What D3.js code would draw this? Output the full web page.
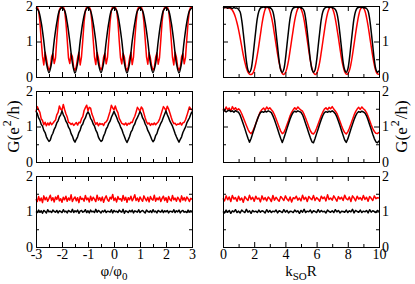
<!DOCTYPE html>
<html>
<head>
<meta charset="utf-8">
<script src="https://cdn.jsdelivr.net/npm/d3@7"></script>
<style>
body { margin: 0; background: #fff; }
svg { display: block; font-family: "Liberation Serif", "DejaVu Serif", serif; }
</style>
</head>
<body>
<script>
'use strict';

// x ranges of the two columns
var phiDomain = [-3, 3],
  kDomain = [0, 10];

var phiMajor = [-3, -2, -1, 0, 1, 2, 3],
  phiMinor = [-2.5, -1.5, -0.5, 0.5, 1.5, 2.5],
  kMajor = [0, 2, 4, 6, 8, 10],
  kMinor = [1, 3, 5, 7, 9],
  gMajor = [0, 1, 2],
  gMinor = [0.5, 1.5];

// top left, phi step 0.1
var tlBlack = [
  1.95,1.86,1.54,1.01,0.39,0.12,0.40,1.02,1.53,1.87,
  1.95,1.87,1.53,1.00,0.40,0.11,0.39,1.01,1.54,1.86,
  1.96,1.86,1.52,1.00,0.38,0.12,0.40,1.00,1.53,1.87,
  1.95,1.87,1.54,1.02,0.39,0.11,0.39,1.01,1.52,1.86,
  1.95,1.86,1.53,1.01,0.40,0.12,0.38,1.00,1.53,1.87,
  1.96,1.87,1.54,1.00,0.39,0.11,0.40,1.02,1.54,1.86,
  1.95];

// top left, phi step 0.05
var tlRed = [
  1.95,1.97,1.87,1.56,1.04,0.58,0.34,0.70,0.52,0.30,0.19,0.27,0.57,0.66,0.38,0.53,1.06,1.54,1.89,1.96,
  1.94,1.98,1.88,1.54,1.06,0.53,0.38,0.66,0.57,0.26,0.18,0.30,0.53,0.70,0.34,0.57,1.04,1.56,1.87,1.97,
  1.96,1.97,1.89,1.55,1.05,0.56,0.35,0.69,0.54,0.29,0.20,0.28,0.56,0.67,0.37,0.55,1.05,1.55,1.88,1.98,
  1.95,1.96,1.88,1.57,1.03,0.54,0.37,0.67,0.56,0.27,0.17,0.29,0.54,0.69,0.35,0.56,1.07,1.53,1.89,1.97,
  1.94,1.97,1.87,1.55,1.06,0.57,0.36,0.68,0.53,0.30,0.19,0.26,0.55,0.68,0.36,0.54,1.04,1.56,1.88,1.96,
  1.95,1.98,1.88,1.54,1.05,0.55,0.34,0.70,0.55,0.28,0.18,0.28,0.57,0.66,0.37,0.55,1.06,1.55,1.87,1.97,
  1.95];

// top right, k step 0.1
var trBlack = [
  1.96,1.95,1.97,1.94,1.96,1.95,1.93,1.96,1.94,1.94,
  1.90,1.83,1.60,1.24,0.84,0.45,0.20,0.13,0.22,0.50,
  0.90,1.30,1.65,1.85,1.94,1.96,1.97,1.95,1.98,1.96,
  1.95,1.92,1.84,1.62,1.25,0.85,0.45,0.20,0.13,0.22,
  0.50,0.90,1.30,1.65,1.86,1.94,1.96,1.97,1.95,1.97,
  1.95,1.93,1.86,1.64,1.28,0.88,0.48,0.22,0.13,0.20,
  0.46,0.86,1.26,1.62,1.84,1.93,1.96,1.97,1.95,1.97,
  1.96,1.94,1.90,1.80,1.56,1.20,0.80,0.42,0.20,0.13,
  0.22,0.50,0.90,1.30,1.65,1.85,1.94,1.96,1.97,1.95,
  1.97,1.95,1.93,1.86,1.64,1.28,0.88,0.48,0.22,0.13,
  0.18];

var trRed = [
  1.95,1.96,1.95,1.95,1.94,1.93,1.88,1.80,1.68,1.52,
  1.33,1.10,0.86,0.62,0.42,0.25,0.14,0.08,0.07,0.10,
  0.20,0.38,0.62,0.90,1.20,1.50,1.74,1.90,1.97,1.95,
  1.86,1.70,1.48,1.20,0.92,0.64,0.40,0.22,0.10,0.07,
  0.12,0.25,0.46,0.74,1.04,1.33,1.60,1.80,1.93,1.97,
  1.92,1.80,1.60,1.33,1.04,0.74,0.46,0.25,0.12,0.07,
  0.10,0.22,0.42,0.70,1.00,1.30,1.58,1.79,1.92,1.97,
  1.94,1.83,1.64,1.38,1.10,0.80,0.52,0.30,0.15,0.08,
  0.09,0.18,0.36,0.62,0.92,1.22,1.50,1.74,1.90,1.97,
  1.95,1.86,1.68,1.44,1.15,0.86,0.58,0.34,0.17,0.09,
  0.08];

// middle left, phi step 0.05
var mlBlack = [
  1.43,1.36,1.24,1.18,1.06,1.01,0.89,0.83,0.71,0.64,0.58,0.62,0.74,0.81,0.92,0.99,1.10,1.16,1.27,1.33,
  1.44,1.33,1.26,1.15,1.09,0.98,0.92,0.80,0.73,0.62,0.56,0.64,0.71,0.83,0.90,1.02,1.07,1.18,1.24,1.35,
  1.41,1.35,1.23,1.17,1.07,1.01,0.90,0.83,0.70,0.63,0.58,0.61,0.73,0.81,0.93,0.99,1.09,1.15,1.26,1.34,
  1.43,1.34,1.26,1.16,1.09,0.99,0.92,0.81,0.72,0.62,0.55,0.63,0.72,0.84,0.90,1.01,1.07,1.18,1.25,1.33,
  1.42,1.36,1.24,1.18,1.07,1.00,0.89,0.82,0.73,0.64,0.57,0.62,0.74,0.80,0.92,1.00,1.09,1.16,1.26,1.35,
  1.44,1.33,1.25,1.15,1.08,1.01,0.91,0.80,0.71,0.63,0.56,0.64,0.71,0.83,0.91,0.98,1.10,1.17,1.24,1.34,
  1.42];

var mlRed = [
  1.42,1.56,1.47,1.40,1.22,1.17,1.05,1.12,1.02,1.10,1.04,1.12,1.05,1.09,1.14,1.18,1.33,1.40,1.58,1.49,
  1.46,1.62,1.48,1.36,1.27,1.12,1.10,1.06,1.09,1.03,1.07,1.11,1.04,1.12,1.10,1.22,1.28,1.45,1.53,1.60,
  1.44,1.54,1.52,1.35,1.26,1.14,1.06,1.11,1.02,1.09,1.06,1.08,1.03,1.11,1.13,1.19,1.31,1.43,1.60,1.52,
  1.47,1.58,1.46,1.39,1.23,1.16,1.09,1.07,1.05,1.10,1.03,1.09,1.07,1.12,1.11,1.21,1.29,1.41,1.54,1.49,
  1.43,1.55,1.50,1.37,1.24,1.13,1.07,1.10,1.03,1.08,1.05,1.10,1.05,1.09,1.13,1.20,1.32,1.44,1.56,1.51,
  1.45,1.57,1.49,1.38,1.26,1.15,1.08,1.09,1.04,1.07,1.06,1.11,1.04,1.10,1.12,1.19,1.30,1.42,1.55,1.50,
  1.46];

// middle right, k step 0.1
var mrBlack = [
  1.43,1.45,1.41,1.44,1.46,1.42,1.44,1.40,1.45,1.42,
  1.40,1.32,1.20,1.07,0.94,0.80,0.67,0.56,0.66,0.80,
  0.93,1.07,1.20,1.31,1.39,1.42,1.40,1.43,1.41,1.44,
  1.42,1.39,1.30,1.19,1.06,0.93,0.79,0.66,0.55,0.67,
  0.80,0.94,1.08,1.21,1.32,1.40,1.43,1.41,1.44,1.42,
  1.40,1.33,1.21,1.08,0.95,0.81,0.68,0.57,0.54,0.66,
  0.80,0.93,1.07,1.20,1.31,1.39,1.42,1.40,1.43,1.41,
  1.44,1.41,1.36,1.27,1.15,1.02,0.88,0.75,0.62,0.55,
  0.65,0.79,0.93,1.06,1.19,1.30,1.38,1.42,1.40,1.43,
  1.41,1.38,1.30,1.18,1.05,0.92,0.78,0.66,0.57,0.54,
  0.60];

var mrRed = [
  1.50,1.44,1.55,1.47,1.52,1.43,1.56,1.48,1.53,1.46,
  1.50,1.45,1.36,1.25,1.14,1.03,0.92,0.84,0.80,0.86,
  0.96,1.08,1.20,1.32,1.42,1.48,1.52,1.46,1.55,1.49,
  1.53,1.47,1.42,1.33,1.22,1.10,0.98,0.87,0.80,0.83,
  0.93,1.05,1.17,1.30,1.40,1.47,1.53,1.48,1.55,1.50,
  1.46,1.43,1.34,1.23,1.11,0.99,0.88,0.81,0.79,0.85,
  0.95,1.07,1.19,1.31,1.41,1.49,1.53,1.47,1.54,1.50,
  1.56,1.49,1.44,1.37,1.26,1.14,1.02,0.91,0.83,0.79,
  0.85,0.95,1.07,1.20,1.32,1.42,1.49,1.54,1.48,1.55,
  1.50,1.46,1.39,1.29,1.17,1.05,0.94,0.86,0.81,0.80,
  0.84];

// bottom left, phi step 0.05
var blBlack = [
  1.00,0.97,1.04,0.98,1.02,0.95,1.03,1.00,0.96,1.05,0.99,1.01,0.97,1.04,1.00,0.98,1.03,0.96,1.02,1.00,
  0.97,1.05,0.99,1.01,0.96,1.03,1.00,0.98,1.06,0.97,1.02,0.99,1.04,0.95,1.01,1.03,0.98,1.00,1.05,0.97,
  1.02,0.96,1.04,0.99,1.01,0.97,1.06,0.98,1.03,1.00,0.96,1.02,0.99,1.04,0.97,1.01,1.00,0.98,1.05,0.96,
  1.03,0.99,1.01,0.97,1.04,1.00,0.98,1.06,0.95,1.02,1.00,0.97,1.03,0.99,1.04,0.96,1.02,1.00,0.98,1.05,
  0.97,1.01,1.03,0.99,0.96,1.04,1.00,0.98,1.02,0.97,1.05,0.99,1.01,0.96,1.03,1.00,0.98,1.04,0.97,1.02,
  0.99,1.03,0.96,1.01,1.00,0.98,1.05,0.97,1.02,0.99,1.04,0.96,1.01,1.03,0.98,1.00,0.97,1.04,0.99,1.02,
  1.00];

var blRed = [
  1.35,1.28,1.42,1.30,1.38,1.25,1.44,1.33,1.40,1.29,1.37,1.46,1.31,1.39,1.27,1.41,1.34,1.45,1.30,1.36,
  1.26,1.40,1.33,1.43,1.29,1.38,1.32,1.47,1.28,1.36,1.41,1.30,1.39,1.25,1.42,1.34,1.37,1.29,1.45,1.33,
  1.38,1.27,1.43,1.31,1.40,1.35,1.28,1.46,1.32,1.39,1.30,1.41,1.26,1.37,1.44,1.33,1.29,1.40,1.35,1.48,
  1.31,1.38,1.27,1.42,1.34,1.36,1.29,1.45,1.32,1.40,1.26,1.39,1.33,1.43,1.30,1.37,1.47,1.31,1.38,1.28,
  1.41,1.34,1.29,1.44,1.36,1.30,1.40,1.27,1.42,1.35,1.32,1.46,1.29,1.38,1.33,1.41,1.28,1.37,1.43,1.31,
  1.39,1.26,1.42,1.34,1.30,1.45,1.33,1.38,1.29,1.40,1.35,1.27,1.44,1.32,1.39,1.30,1.41,1.36,1.28,1.37,
  1.34];

// bottom right, k step 0.1
var brBlack = [
  1.00,0.96,1.04,0.98,1.03,0.95,1.02,0.99,1.05,0.97,
  1.01,0.96,1.04,1.00,0.97,1.06,0.98,1.02,0.95,1.03,
  0.99,1.01,0.97,1.04,0.98,1.02,1.00,0.96,1.05,0.98,
  1.03,0.97,1.01,0.99,1.04,0.96,1.02,1.00,0.97,1.05,
  0.98,1.03,0.96,1.01,1.00,0.97,1.04,0.99,1.02,0.95,
  1.03,0.98,1.06,0.97,1.01,0.99,1.04,0.96,1.02,1.00,
  0.97,1.05,0.98,1.03,0.99,1.01,0.96,1.04,1.00,0.98,
  1.02,0.97,1.05,0.99,1.03,0.96,1.01,1.00,0.98,1.04,
  0.97,1.02,0.99,1.06,0.96,1.03,1.00,0.98,1.04,0.97,
  1.01,0.99,1.03,0.96,1.05,0.98,1.02,1.00,0.97,1.03,
  1.00];

var brRed = [
  1.37,1.30,1.44,1.33,1.41,1.28,1.45,1.35,1.39,1.29,
  1.43,1.32,1.38,1.26,1.42,1.36,1.31,1.46,1.34,1.40,
  1.29,1.43,1.35,1.38,1.27,1.44,1.33,1.39,1.30,1.41,
  1.36,1.28,1.45,1.32,1.40,1.34,1.29,1.42,1.37,1.31,
  1.44,1.35,1.30,1.41,1.27,1.39,1.36,1.43,1.32,1.38,
  1.30,1.46,1.34,1.40,1.28,1.42,1.37,1.33,1.45,1.31,
  1.39,1.35,1.29,1.43,1.36,1.41,1.30,1.47,1.34,1.38,
  1.32,1.44,1.37,1.29,1.42,1.35,1.40,1.31,1.46,1.36,
  1.33,1.41,1.28,1.44,1.38,1.30,1.43,1.35,1.39,1.32,
  1.45,1.34,1.40,1.29,1.42,1.37,1.31,1.44,1.36,1.39,
  1.38];

var colLeft = [36, 223],
  pw = 156,
  rowTop = [6, 91, 176],
  ph = 71,
  fs = 14;

var panels = [
  {col: 0, row: 0, red: tlRed, black: tlBlack, smooth: true},
  {col: 1, row: 0, red: trRed, black: trBlack, smooth: true},
  {col: 0, row: 1, red: mlRed, black: mlBlack},
  {col: 1, row: 1, red: mrRed, black: mrBlack},
  {col: 0, row: 2, red: blRed, black: blBlack},
  {col: 1, row: 2, red: brRed, black: brBlack}
];

var svg = d3.select('body').append('svg')
  .attr('width', 415)
  .attr('height', 284);

function grid(dom, n) {
  return d3.range(n).map(function(i) {
    return dom[0] + i * (dom[1] - dom[0]) / (n - 1);
  });
}

function noLabel() { return ''; }

function styleAxis(g) {
  g.attr('font-family', null).attr('font-size', fs);
  g.select('.domain').remove();
  g.selectAll('text').attr('fill', '#000');
}

panels.forEach(function(p) {
  var dom = p.col === 0 ? phiDomain : kDomain,
    xMaj = p.col === 0 ? phiMajor : kMajor,
    xMin = p.col === 0 ? phiMinor : kMinor,
    x0 = colLeft[p.col],
    y0 = rowTop[p.row];

  var x = d3.scaleLinear().domain(dom).range([x0, x0 + pw]),
    y = d3.scaleLinear().domain([0, 2]).range([y0 + ph, y0]);

  var g = svg.append('g');

  // series
  [['red', p.red, '#ff0000'], ['black', p.black, '#000000']].forEach(function(s) {
    var xv = grid(dom, s[1].length);
    var line = d3.line()
      .x(function(d, i) { return x(xv[i]); })
      .y(function(d) { return y(d); });
    if (p.smooth && s[1].length < 110) line.curve(d3.curveCatmullRom);
    g.append('path')
      .attr('d', line(s[1]))
      .attr('fill', 'none')
      .attr('stroke', s[2])
      .attr('stroke-width', 1.5)
      .attr('stroke-linejoin', 'round');
  });

  // ticks on all four sides, pointing in
  var bottomLabels = p.row === 2 ? String : noLabel;
  g.append('g').attr('transform', 'translate(0,' + (y0 + ph) + ')')
    .call(d3.axisBottom(x).tickValues(xMaj).tickSize(-5).tickSizeOuter(0).tickPadding(2).tickFormat(bottomLabels))
    .call(styleAxis);
  g.append('g').attr('transform', 'translate(0,' + (y0 + ph) + ')')
    .call(d3.axisBottom(x).tickValues(xMin).tickSize(-3).tickSizeOuter(0).tickFormat(noLabel))
    .call(styleAxis);
  g.append('g').attr('transform', 'translate(0,' + y0 + ')')
    .call(d3.axisTop(x).tickValues(xMaj).tickSize(-5).tickSizeOuter(0).tickFormat(noLabel))
    .call(styleAxis);
  g.append('g').attr('transform', 'translate(0,' + y0 + ')')
    .call(d3.axisTop(x).tickValues(xMin).tickSize(-3).tickSizeOuter(0).tickFormat(noLabel))
    .call(styleAxis);

  var leftLabels = p.col === 0 ? String : noLabel,
    rightLabels = p.col === 1 ? String : noLabel;
  g.append('g').attr('transform', 'translate(' + x0 + ',0)')
    .call(d3.axisLeft(y).tickValues(gMajor).tickSize(-5).tickSizeOuter(0).tickPadding(3).tickFormat(leftLabels))
    .call(styleAxis);
  g.append('g').attr('transform', 'translate(' + x0 + ',0)')
    .call(d3.axisLeft(y).tickValues(gMinor).tickSize(-3).tickSizeOuter(0).tickFormat(noLabel))
    .call(styleAxis);
  g.append('g').attr('transform', 'translate(' + (x0 + pw) + ',0)')
    .call(d3.axisRight(y).tickValues(gMajor).tickSize(-5).tickSizeOuter(0).tickPadding(3).tickFormat(rightLabels))
    .call(styleAxis);
  g.append('g').attr('transform', 'translate(' + (x0 + pw) + ',0)')
    .call(d3.axisRight(y).tickValues(gMinor).tickSize(-3).tickSizeOuter(0).tickFormat(noLabel))
    .call(styleAxis);

  // frame
  g.append('rect')
    .attr('x', x0 + 0.5)
    .attr('y', y0 + 0.5)
    .attr('width', pw)
    .attr('height', ph)
    .attr('fill', 'none')
    .attr('stroke', '#000')
    .attr('stroke-width', 1);
});

// axis titles
var xt1 = svg.append('text').attr('x', 114).attr('y', 276)
  .attr('text-anchor', 'middle').attr('font-size', 15);
xt1.append('tspan').text('\u03c6/\u03c6');
xt1.append('tspan').attr('font-size', 11).attr('dy', 4).text('0');

var xt2 = svg.append('text').attr('x', 301).attr('y', 276)
  .attr('text-anchor', 'middle').attr('font-size', 15);
xt2.append('tspan').text('k');
xt2.append('tspan').attr('font-size', 11).attr('dy', 4).text('SO');
xt2.append('tspan').attr('dy', -4).text('R');

function yTitle(xpos) {
  var t = svg.append('text')
    .attr('transform', 'translate(' + xpos + ',126.5) rotate(-90)')
    .attr('text-anchor', 'middle')
    .attr('font-size', 17);
  t.append('tspan').text('G(e');
  t.append('tspan').attr('font-size', 12).attr('dy', -8).attr('dx', 1).text('2');
  t.append('tspan').attr('dy', 8).attr('dx', 1).text('/h)');
}
yTitle(19);
yTitle(407);
</script>
</body>
</html>
